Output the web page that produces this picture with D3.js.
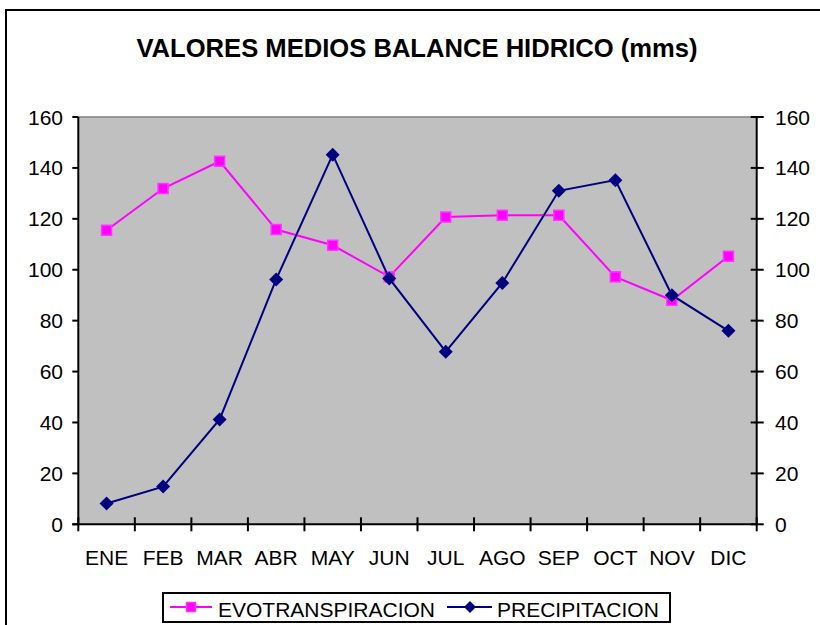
<!DOCTYPE html>
<html lang="en">
<head>
<meta charset="utf-8">
<style>
  body { margin: 0; background: #fff; }
  svg text { font-family: Arial, "Liberation Sans", sans-serif; fill: #000; }
</style>
</head>
<body>
<svg width="820" height="625"></svg>
<script src="https://cdn.jsdelivr.net/npm/d3@7"></script>
<script>
var months = ['ENE', 'FEB', 'MAR', 'ABR', 'MAY', 'JUN', 'JUL', 'AGO', 'SEP', 'OCT', 'NOV', 'DIC']
var evotranspiracion = [115.5, 131.9, 142.6, 115.8, 109.6, 97.2, 120.7, 121.4, 121.4, 97.2, 88.0, 105.3]
var precipitacion = [8.2, 14.8, 41.2, 96.2, 145.2, 96.6, 67.8, 94.8, 131.0, 135.2, 90.0, 76.0]
var yTicks = [0, 20, 40, 60, 80, 100, 120, 140, 160]

var svg = d3.select('svg')
// plot box (note: "top" is taken by window.top, so use other names)
var pLeft = 78.3, pRight = 756.7, pTop = 117, pBottom = 524.3

// outer frame (right and bottom run off the picture)
svg.append('rect')
  .attr('x', 6).attr('y', 10).attr('width', 830).attr('height', 640)
  .attr('fill', '#fff').attr('stroke', '#000').attr('stroke-width', 2)

svg.append('text')
  .attr('x', 417).attr('y', 57)
  .attr('text-anchor', 'middle')
  .style('font-size', '25.6px').style('font-weight', 'bold')
  .text('VALORES MEDIOS BALANCE HIDRICO (mms)')

var x = d3.scaleBand().domain(months).range([pLeft, pRight])
var y = d3.scaleLinear().domain([0, 160]).range([pBottom, pTop])
var cx = function (d, i) { return x(months[i]) + x.bandwidth() / 2 }

// plot area
svg.append('rect')
  .attr('x', pLeft).attr('y', pTop)
  .attr('width', pRight - pLeft).attr('height', pBottom - pTop)
  .attr('fill', '#c0c0c0')
svg.append('line')
  .attr('x1', pLeft).attr('x2', pRight).attr('y1', pTop).attr('y2', pTop)
  .attr('stroke', '#808080').attr('stroke-width', 1.5)

// left axis
var gl = svg.append('g')
gl.append('line').attr('x1', pLeft).attr('x2', pLeft).attr('y1', pTop).attr('y2', pBottom)
  .attr('stroke', '#000').attr('stroke-width', 2)
gl.selectAll('.t').data(yTicks).enter().append('line')
  .attr('x1', pLeft - 6).attr('x2', pLeft)
  .attr('y1', function (d) { return y(d) }).attr('y2', function (d) { return y(d) })
  .attr('stroke', '#000').attr('stroke-width', 2)
gl.selectAll('text').data(yTicks).enter().append('text')
  .attr('x', 63).attr('y', function (d) { return y(d) })
  .attr('dy', '0.36em').attr('text-anchor', 'end')
  .style('font-size', '21px')
  .text(function (d) { return d })

// right axis
var gr = svg.append('g')
gr.append('line').attr('x1', pRight).attr('x2', pRight).attr('y1', pTop).attr('y2', pBottom)
  .attr('stroke', '#000').attr('stroke-width', 2)
gr.selectAll('.t').data(yTicks).enter().append('line')
  .attr('x1', pRight - 6).attr('x2', pRight + 7)
  .attr('y1', function (d) { return y(d) }).attr('y2', function (d) { return y(d) })
  .attr('stroke', '#000').attr('stroke-width', 2)
gr.selectAll('text').data(yTicks).enter().append('text')
  .attr('x', 775).attr('y', function (d) { return y(d) })
  .attr('dy', '0.36em').attr('text-anchor', 'start')
  .style('font-size', '21px')
  .text(function (d) { return d })

// x axis
var gx = svg.append('g')
gx.append('line').attr('x1', pLeft - 6).attr('x2', pRight).attr('y1', pBottom).attr('y2', pBottom)
  .attr('stroke', '#000').attr('stroke-width', 2)
gx.selectAll('.t').data(months.concat(['end'])).enter().append('line')
  .attr('x1', function (d, i) { return pLeft + i * x.step() })
  .attr('x2', function (d, i) { return pLeft + i * x.step() })
  .attr('y1', pBottom - 7).attr('y2', pBottom + 7)
  .attr('stroke', '#000').attr('stroke-width', 2)
gx.selectAll('text').data(months).enter().append('text')
  .attr('x', cx).attr('y', 565)
  .attr('text-anchor', 'middle')
  .style('font-size', '21px')
  .text(function (d) { return d })

var line = d3.line().x(cx).y(function (d) { return y(d) })

function square (g, px, py, s) {
  g.append('rect')
    .attr('x', px - s / 2).attr('y', py - s / 2)
    .attr('width', s).attr('height', s)
    .attr('fill', '#ff00ff').attr('stroke', '#ff33ff').attr('stroke-width', 1.5)
}
function diamond (g, px, py, s) {
  g.append('path')
    .attr('d', 'M' + px + ',' + (py - s) + 'L' + (px + s) + ',' + py + 'L' + px + ',' + (py + s) + 'L' + (px - s) + ',' + py + 'Z')
    .attr('fill', '#000080')
}

// EVOTRANSPIRACION
var ge = svg.append('g')
ge.append('path').datum(evotranspiracion)
  .attr('d', line).attr('fill', 'none')
  .attr('stroke', '#ff00ff').attr('stroke-width', 2)
evotranspiracion.forEach(function (d, i) { square(ge, cx(d, i), y(d), 10) })

// PRECIPITACION
var gp = svg.append('g')
gp.append('path').datum(precipitacion)
  .attr('d', line).attr('fill', 'none')
  .attr('stroke', '#000080').attr('stroke-width', 2)
precipitacion.forEach(function (d, i) { diamond(gp, cx(d, i), y(d), 7) })

// legend
var lg = svg.append('g')
lg.append('rect')
  .attr('x', 163).attr('y', 593).attr('width', 507).attr('height', 29)
  .attr('fill', '#fff').attr('stroke', '#000').attr('stroke-width', 2)
lg.append('line').attr('x1', 170).attr('x2', 212).attr('y1', 607).attr('y2', 607)
  .attr('stroke', '#ff00ff').attr('stroke-width', 2)
square(lg, 191, 607, 9)
lg.append('text').attr('x', 218).attr('y', 617).style('font-size', '21px').text('EVOTRANSPIRACION')
lg.append('line').attr('x1', 447).attr('x2', 492).attr('y1', 607).attr('y2', 607)
  .attr('stroke', '#000080').attr('stroke-width', 2)
diamond(lg, 470, 607, 6)
lg.append('text').attr('x', 497).attr('y', 617).style('font-size', '21px').text('PRECIPITACION')
</script>
</body>
</html>
